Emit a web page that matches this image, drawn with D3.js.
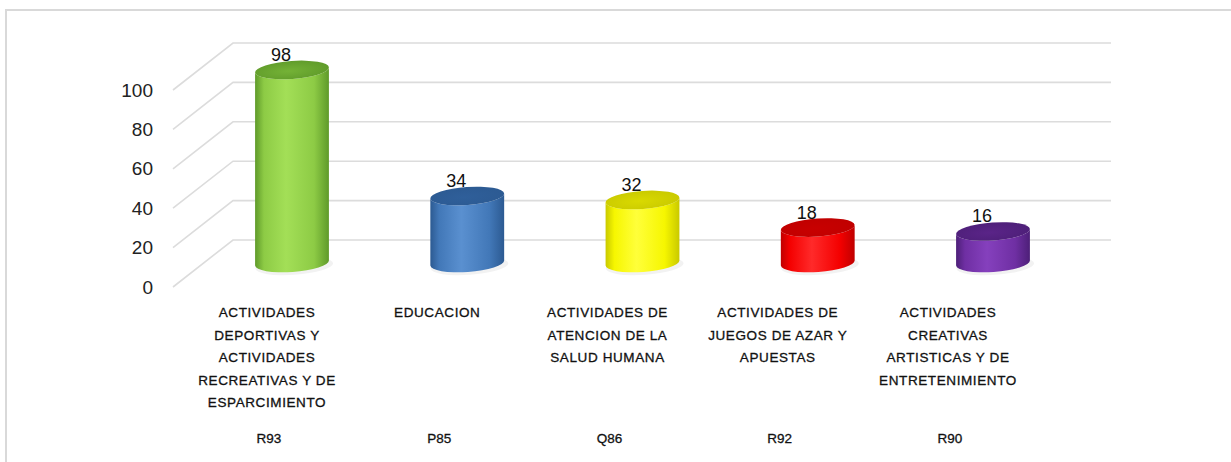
<!DOCTYPE html>
<html>
<head>
<meta charset="utf-8">
<script src="https://cdn.jsdelivr.net/npm/d3@7"></script>
<style>
  html, body { margin: 0; padding: 0; background: #fff; }
  svg { display: block; }
</style>
</head>
<body>
<svg id="chart" width="1231" height="462"></svg>
<script>
// Establishments by economic activity (CIIU code)
const codes = ["R93", "P85", "Q86", "R92", "R90"];
const categoryLines = [
  ["ACTIVIDADES", "DEPORTIVAS Y", "ACTIVIDADES", "RECREATIVAS Y DE", "ESPARCIMIENTO"],
  ["EDUCACION"],
  ["ACTIVIDADES DE", "ATENCION DE LA", "SALUD HUMANA"],
  ["ACTIVIDADES DE", "JUEGOS DE AZAR Y", "APUESTAS"],
  ["ACTIVIDADES", "CREATIVAS", "ARTISTICAS Y DE", "ENTRETENIMIENTO"]
];
const values = [98, 34, 32, 18, 16];
const yTicks = [0, 20, 40, 60, 80, 100];

// fill palette: [side dark, highlight, body, top face]
const palette = [
  ["#5f9a2a", "#a3df57", "#8dcb45", "#74b236"],
  ["#2c5a92", "#5a90d0", "#4278b8", "#2f5f9a"],
  ["#c9c900", "#ffff3a", "#f6f600", "#d9d900"],
  ["#c00000", "#ff2a2a", "#f40000", "#c80000"],
  ["#4d1f78", "#8540bd", "#6f2fa3", "#5a2488"]
];

const svg = d3.select("#chart");
const defs = svg.append("defs");

// frame
svg.append("path")
  .attr("d", "M6,462 L6,10 L1231,10")
  .attr("fill", "none").attr("stroke", "#d9d9d9").attr("stroke-width", 2);

// value scales: back wall, bar mid-depth and front edge of the side wall
const yBack = d3.scaleLinear().domain([0, 100]).range([240, 43]);
const yBar = d3.scaleLinear().domain([0, 100]).range([263, 66]);
const yFront = d3.scaleLinear().domain([0, 100]).range([287, 90]);
const wallLeft = 233, wallRight = 1111, sideFront = 173;

// gridlines: back wall + side wall diagonals
const grid = svg.append("g").attr("stroke", "#dcdcdc").attr("stroke-width", 1.6).attr("fill", "none");
yTicks.forEach(t => {
  grid.append("path")
    .attr("d", `M${sideFront},${yFront(t)} L${wallLeft},${yBack(t)} L${wallRight},${yBack(t)}`);
});

// y axis labels
const yAxis = d3.axisLeft(yFront).tickValues(yTicks).tickSize(0).tickPadding(0);
const gy = svg.append("g").attr("transform", "translate(153,0)").call(yAxis);
gy.select(".domain").remove();
gy.selectAll("text")
  .attr("font-family", "Liberation Sans, Arial, sans-serif")
  .attr("font-size", 19).attr("fill", "#222");

// bar positions
const xBar = d3.scalePoint().domain(codes).range([292, 993]);
const xLabel = d3.scalePoint().domain(codes).range([267, 948]);

const rx = 37, ry = 9, tilt = -4 * Math.PI / 180;
const ddx = rx * Math.cos(tilt), ddy = rx * Math.sin(tilt);

codes.forEach((c, i) => {
  const p = palette[i];
  const g = defs.append("linearGradient").attr("id", "grad" + i)
    .attr("x1", "0%").attr("x2", "100%").attr("y1", "0%").attr("y2", "0%");
  g.append("stop").attr("offset", "0%").attr("stop-color", p[0]);
  g.append("stop").attr("offset", "12%").attr("stop-color", p[2]);
  g.append("stop").attr("offset", "42%").attr("stop-color", p[1]);
  g.append("stop").attr("offset", "80%").attr("stop-color", p[2]);
  g.append("stop").attr("offset", "100%").attr("stop-color", p[0]);
  const gt = defs.append("radialGradient").attr("id", "top" + i)
    .attr("cx", "45%").attr("cy", "55%").attr("r", "60%");
  gt.append("stop").attr("offset", "0%").attr("stop-color", p[3]);
  gt.append("stop").attr("offset", "100%").attr("stop-color", p[0]);
});

const bars = svg.append("g");
values.forEach((v, i) => {
  const c = codes[i];
  const cx = xBar(c);
  const yb = yBar(0), yt = yBar(v);
  const deg = tilt * 180 / Math.PI;
  const body = `M${cx - ddx},${yt - ddy} L${cx - ddx},${yb - ddy} ` +
    `A${rx},${ry} ${deg} 0 0 ${cx + ddx},${yb + ddy} ` +
    `L${cx + ddx},${yt + ddy} ` +
    `A${rx},${ry} ${deg} 0 1 ${cx - ddx},${yt - ddy} Z`;
  // soft floor shadow
  bars.append("ellipse")
    .attr("cx", cx + 2).attr("cy", yb + 3).attr("rx", rx + 2).attr("ry", ry)
    .attr("transform", `rotate(${deg},${cx},${yb})`)
    .attr("fill", "#000").attr("opacity", 0.05);
  bars.append("path").attr("d", body).attr("fill", `url(#grad${i})`);
  bars.append("ellipse")
    .attr("cx", cx).attr("cy", yt).attr("rx", rx).attr("ry", ry)
    .attr("transform", `rotate(${deg},${cx},${yt})`)
    .attr("fill", `url(#top${i})`);

  // value label
  svg.append("text")
    .attr("x", cx - 11).attr("y", yt - 9)
    .attr("text-anchor", "middle")
    .attr("font-family", "Liberation Sans, Arial, sans-serif")
    .attr("font-size", 18).attr("fill", "#111")
    .text(v);
});

// category labels and codes
const catFont = "Liberation Sans, Arial, sans-serif";
categoryLines.forEach((lines, i) => {
  const x = xLabel(codes[i]);
  const t = svg.append("text")
    .attr("text-anchor", "middle")
    .attr("font-family", catFont)
    .attr("font-size", 13.5)
    .attr("letter-spacing", 0.6)
    .attr("fill", "#111")
    .attr("stroke", "#111").attr("stroke-width", 0.3);
  lines.forEach((ln, k) => {
    t.append("tspan").attr("x", x).attr("y", 317 + k * 22.6).text(ln);
  });
  svg.append("text")
    .attr("x", x + 2).attr("y", 443)
    .attr("text-anchor", "middle")
    .attr("font-family", catFont)
    .attr("font-size", 13.5)
    .attr("fill", "#111")
    .attr("stroke", "#111").attr("stroke-width", 0.3)
    .text(codes[i]);
});
</script>
</body>
</html>
